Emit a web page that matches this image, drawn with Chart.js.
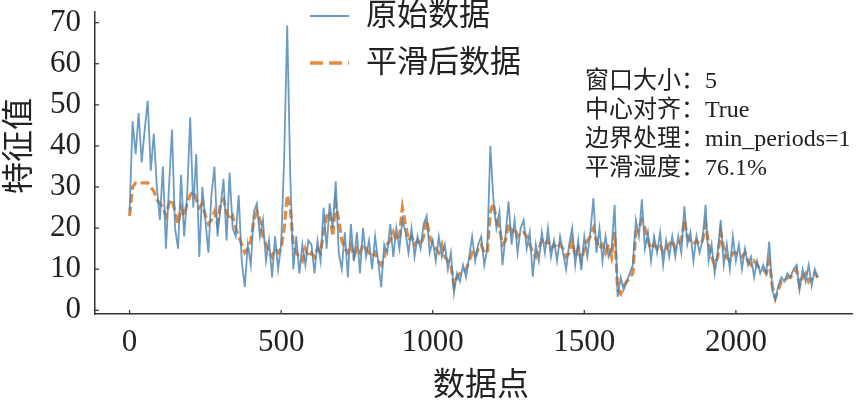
<!DOCTYPE html>
<html>
<head>
<meta charset="utf-8">
<script src="https://cdn.jsdelivr.net/npm/chart.js@4/dist/chart.umd.min.js"></script>
<style>
  html, body { margin: 0; padding: 0; background: #fff; }
  #wrap { width: 862px; height: 405px; }
</style>
</head>
<body>
<div id="wrap"><canvas id="smoothChart" width="862" height="405"></canvas></div>
<script>
// sample spacing of the values (one value every 10 points)
const step = 10;

const xTicks = [0, 500, 1000, 1500, 2000];
const yTicks = [0, 10, 20, 30, 40, 50, 60, 70];

// raw series (原始数据)
const rawValues = [
    24, 46, 38, 48, 36, 44, 51, 34, 43, 30,
    22, 35, 15, 30, 44, 20, 15, 33, 18, 28,
    47, 25, 38, 13, 30, 22, 14, 28, 35, 18,
    25, 32, 17, 33.5, 20, 18, 28, 12, 5.7, 16,
    11, 24, 26, 18, 22, 12, 17, 8, 18, 10,
    16, 37, 69.3, 33, 10, 18, 9, 16, 11, 17,
    16, 9, 17, 12, 25, 15, 26, 20, 31.4, 14,
    10, 19, 8, 21, 12, 19, 9, 20, 13, 17,
    10, 18, 12, 5.6, 16, 14, 21, 13, 20, 15,
    22, 19, 14, 20, 13, 18, 15, 21, 23, 14,
    17, 12, 18, 13, 16, 10, 14, 4.2, 9, 7,
    11, 8, 13, 18, 12, 16, 18, 11, 15, 40,
    27, 20, 24, 11, 18, 26.5, 16, 22, 14, 20,
    22, 15, 19, 8.2, 16, 12, 19, 14, 20, 13,
    17, 12, 18, 14, 10, 16, 20, 11, 17, 9.8,
    18, 13, 19, 27.3, 14, 20, 12, 18, 13, 15,
    25.7, 3.3, 8, 5, 7, 9, 11, 22, 18, 27,
    15, 19, 12, 18, 14, 19, 11, 17, 13, 18,
    13, 18, 14, 25.3, 16, 19, 12, 18, 14, 17,
    25.7, 12, 16, 9, 14, 22, 11, 16, 10, 18,
    12, 16, 10, 15, 11, 13, 8, 12, 9, 11,
    9, 16.7, 5, 2.5, 6, 8, 7, 9, 8, 10,
    11, 5, 10, 7, 11, 6, 10, 8
];

// smoothed series (平滑后数据)
const smoothValues = [
    23, 30, 31, 31, 31, 31, 31, 30, 29, 27,
    26, 25, 23, 26, 27, 24, 21, 25, 23, 26,
    28, 29, 27, 25, 26, 23, 21, 22, 24, 21,
    26, 27, 24, 22, 23, 20, 18, 16, 14, 15,
    17, 22, 24, 22, 18, 16, 14, 13, 15, 14,
    15, 20, 28, 25, 16, 14, 13, 12, 15, 13,
    14, 13, 15, 14, 19, 23, 24, 18, 26, 22,
    17, 15, 14, 16, 13, 15, 14, 16, 15, 14,
    13, 14, 12, 11, 13, 16, 17, 19, 17, 18,
    25, 21, 17, 18, 16, 17, 16, 18, 22, 18,
    16, 15, 14, 16, 13, 12, 11, 6, 8, 9,
    9, 10, 12, 14, 13, 15, 16, 14, 14, 24,
    26, 22, 20, 16, 17, 21, 19, 20, 18, 19,
    19, 18, 16, 14, 13, 15, 17, 16, 17, 15,
    16, 15, 16, 15, 13, 14, 17, 13, 15, 12,
    15, 17, 18, 20, 17, 15, 16, 14, 16, 13,
    19, 5, 4, 6, 7, 8, 9, 19, 20, 22,
    20, 17, 15, 16, 15, 16, 14, 15, 16, 17,
    15, 16, 17, 22, 18, 17, 16, 17, 16, 17,
    21, 16, 13, 11, 13, 19, 15, 13, 12, 14,
    14, 14, 13, 14, 12, 11, 12, 11, 10, 10,
    9, 12, 6, 3, 5, 7, 7, 8, 8, 9,
    10, 6, 8, 9, 7, 8, 9, 8
];

const infoLines = ["窗口大小：5", "中心对齐：True", "边界处理：min_periods=1", "平滑湿度：76.1%"];

const rawColor = "rgba(70,130,180,0.8)";
const smoothColor = "rgba(226,122,36,0.88)";
const textColor = "#222";
const fontStack = "'Liberation Serif', 'Noto Sans CJK SC', serif";

const rawPoints = rawValues.map((v, i) => ({ x: i * step, y: v }));
const smoothPoints = smoothValues.map((v, i) => ({ x: i * step, y: v }));

// titles, legend, info text and inward tick marks
const decorPlugin = {
    id: "decor",
    afterDraw(chart) {
        const ctx = chart.ctx;
        const xs = chart.scales.x;
        const ys = chart.scales.y;
        const area = chart.chartArea;
        ctx.save();

        // inward ticks
        ctx.strokeStyle = "#333";
        ctx.lineWidth = 1.2;
        xTicks.forEach((t) => {
            const px = xs.getPixelForValue(t);
            ctx.beginPath();
            ctx.moveTo(px, area.bottom);
            ctx.lineTo(px, area.bottom - 4);
            ctx.stroke();
        });
        yTicks.forEach((t) => {
            const py = ys.getPixelForValue(t);
            ctx.beginPath();
            ctx.moveTo(area.left, py);
            ctx.lineTo(area.left + 4, py);
            ctx.stroke();
        });

        // axis titles
        ctx.fillStyle = textColor;
        ctx.font = "32px " + fontStack;
        ctx.textAlign = "center";
        ctx.textBaseline = "middle";
        ctx.fillText("数据点", 481, 387);
        ctx.save();
        ctx.translate(21, 146);
        ctx.rotate(-Math.PI / 2);
        ctx.fillText("特征值", 0, 0);
        ctx.restore();

        // legend
        ctx.lineWidth = 2;
        ctx.strokeStyle = rawColor;
        ctx.beginPath();
        ctx.moveTo(310, 16);
        ctx.lineTo(349, 16);
        ctx.stroke();
        ctx.lineWidth = 3.4;
        ctx.strokeStyle = smoothColor;
        ctx.setLineDash([13, 6]);
        ctx.beginPath();
        ctx.moveTo(310, 63);
        ctx.lineTo(349, 63);
        ctx.stroke();
        ctx.setLineDash([]);
        ctx.font = "31px " + fontStack;
        ctx.textAlign = "left";
        ctx.fillText(chart.data.datasets[0].label, 366, 17);
        ctx.fillText(chart.data.datasets[1].label, 366, 64);

        // info block
        ctx.font = "24px " + fontStack;
        infoLines.forEach((line, i) => {
            ctx.fillText(line, 585, 82 + i * 29);
        });
        ctx.restore();
    }
};

new Chart(document.getElementById("smoothChart"), {
    type: "line",
    data: {
        datasets: [
            {
                label: "原始数据",
                data: rawPoints,
                borderColor: rawColor,
                borderWidth: 1.8,
                pointRadius: 0,
                tension: 0,
            },
            {
                label: "平滑后数据",
                data: smoothPoints,
                borderColor: smoothColor,
                borderWidth: 3.2,
                borderDash: [9, 4],
                pointRadius: 0,
                tension: 0,
            },
        ],
    },
    options: {
        responsive: false,
        animation: false,
        devicePixelRatio: 1,
        layout: { padding: { left: 0, right: 10, top: 12, bottom: 0 } },
        plugins: {
            legend: { display: false },
            tooltip: { enabled: false },
        },
        scales: {
            x: {
                type: "linear",
                min: -114,
                max: 2383,
                grid: { display: false, drawTicks: false },
                border: { display: true, color: "#333", width: 1.5 },
                afterBuildTicks: (scale) => {
                    scale.ticks = xTicks.map((v) => ({ value: v }));
                },
                afterFit: (scale) => {
                    scale.height = 91;
                    scale.paddingLeft = 0;
                    scale.paddingRight = 0;
                },
                ticks: {
                    padding: 10,
                    color: textColor,
                    font: { family: fontStack, size: 31 },
                    maxRotation: 0,
                    callback: (v) => String(v),
                },
            },
            y: {
                min: -0.9,
                max: 72.6,
                grid: { display: false, drawTicks: false },
                border: { display: true, color: "#333", width: 1.5 },
                afterBuildTicks: (scale) => {
                    scale.ticks = yTicks.map((v) => ({ value: v }));
                },
                afterFit: (scale) => {
                    scale.width = 95;
                    scale.paddingTop = 0;
                    scale.paddingBottom = 0;
                },
                ticks: {
                    padding: 14,
                    color: textColor,
                    font: { family: fontStack, size: 31 },
                    callback: (v) => String(v),
                },
            },
        },
    },
    plugins: [decorPlugin],
});
</script>
</body>
</html>
